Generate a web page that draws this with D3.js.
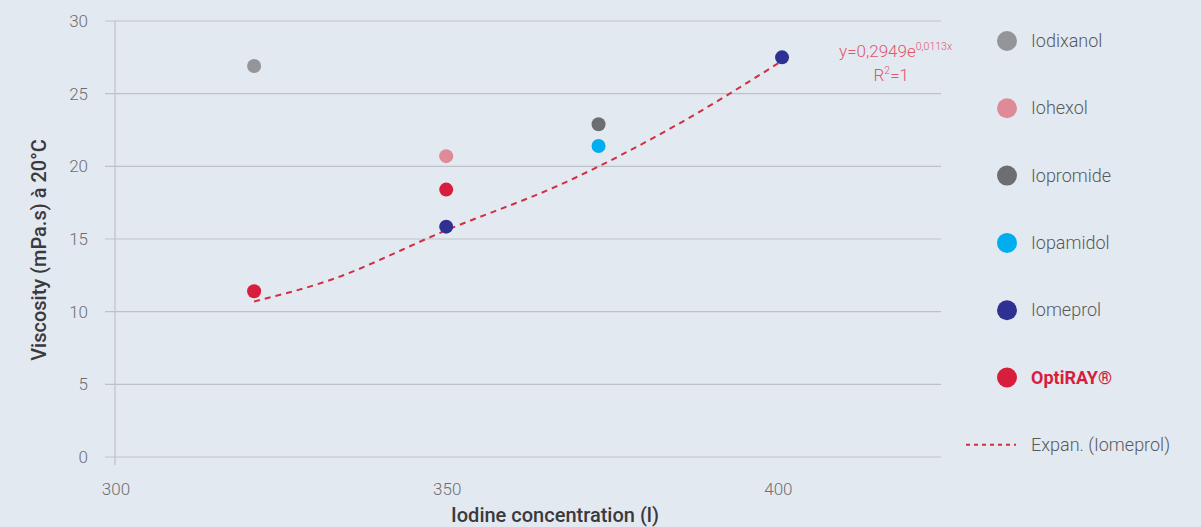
<!DOCTYPE html>
<html>
<head>
<meta charset="utf-8">
<script src="https://cdn.jsdelivr.net/npm/d3@7"></script>
<style>
  body { margin: 0; background: #e3e9f1; }
  svg { display: block; font-family: Roboto, "DejaVu Sans", sans-serif; }
</style>
</head>
<body>
<svg id="chart" width="1201" height="527"></svg>
<script>
"use strict";

// Products, in legend order
const products = ["Iodixanol", "Iohexol", "Iopromide", "Iopamidol", "Iomeprol", "OptiRAY®"];
const colors = ["#939598", "#de8a99", "#6d6e71", "#00aeef", "#2e3192", "#d71e3c"];

// Measured points: [iodine concentration, viscosity at 20°C]
const points = [
    { product: "Iodixanol", x: 321, y: 26.9 },
    { product: "Iohexol", x: 350, y: 20.7 },
    { product: "OptiRAY®", x: 350, y: 18.4 },
    { product: "Iomeprol", x: 350, y: 15.85 },
    { product: "Iopromide", x: 373, y: 22.9 },
    { product: "Iopamidol", x: 373, y: 21.4 },
    { product: "Iomeprol", x: 400.7, y: 27.5 },
    { product: "OptiRAY®", x: 321, y: 11.4 }
];

// Exponential trend for Iomeprol
const trendPoints = [[321, 10.7], [332, 12.1], [350, 15.6], [368, 18.9], [385, 22.9], [400.5, 27.2]];

const xTicks = [300, 350, 400];
const yTicks = [0, 5, 10, 15, 20, 25, 30];

const svg = d3.select("#chart");

const x = d3.scaleLinear([300, 425], [115, 943]);
const y = d3.scaleLinear([0, 30], [457, 21]);
const color = d3.scaleOrdinal(products, colors);

// grid lines
svg.append("g")
    .selectAll("line")
    .data(yTicks)
    .join("line")
    .attr("x1", x(300) - 10)
    .attr("x2", x(425) - 2)
    .attr("y1", d => y(d))
    .attr("y2", d => y(d))
    .attr("stroke", "#bfc1c8")
    .attr("stroke-width", 1.2);

// y axis line
svg.append("line")
    .attr("x1", x(300)).attr("x2", x(300))
    .attr("y1", y(30)).attr("y2", y(0) + 8)
    .attr("stroke", "#bfc1c8")
    .attr("stroke-width", 1.2);

// y tick labels
svg.append("g")
    .selectAll("text")
    .data(yTicks)
    .join("text")
    .attr("x", 88)
    .attr("y", d => y(d) + 6)
    .attr("text-anchor", "end")
    .attr("fill", "#6d6e71")
    .attr("font-size", 17)
    .attr("font-weight", 300)
    .text(d => d);

// x tick labels
svg.append("g")
    .selectAll("text")
    .data(xTicks)
    .join("text")
    .attr("x", d => x(d) + 1)
    .attr("y", 495)
    .attr("text-anchor", "middle")
    .attr("fill", "#6d6e71")
    .attr("font-size", 17)
    .attr("font-weight", 300)
    .text(d => d);

// axis titles
svg.append("text")
    .attr("transform", "translate(46,250) rotate(-90)")
    .attr("text-anchor", "middle")
    .attr("fill", "#3a3a3c")
    .attr("font-size", 20)
    .attr("font-weight", 500)
    .text("Viscosity (mPa.s) à 20°C");

svg.append("text")
    .attr("x", 555)
    .attr("y", 522)
    .attr("text-anchor", "middle")
    .attr("fill", "#3a3a3c")
    .attr("font-size", 20)
    .attr("font-weight", 500)
    .text("Iodine concentration (l)");

// trend line
const line = d3.line()
    .x(d => x(d[0]))
    .y(d => y(d[1]))
    .curve(d3.curveMonotoneX);

svg.append("path")
    .attr("d", line(trendPoints))
    .attr("fill", "none")
    .attr("stroke", "#d1303f")
    .attr("stroke-width", 2)
    .attr("stroke-dasharray", "6,5");

// points
svg.append("g")
    .selectAll("circle")
    .data(points)
    .join("circle")
    .attr("cx", d => x(d.x))
    .attr("cy", d => y(d.y))
    .attr("r", 7)
    .attr("fill", d => color(d.product));

// trend equation
const eq = svg.append("text")
    .attr("x", 952)
    .attr("y", 57)
    .attr("text-anchor", "end")
    .attr("fill", "#e0566b")
    .attr("font-size", 17)
    .attr("font-weight", 300);
eq.append("tspan").text("y=0,2949e");
eq.append("tspan").attr("dy", -7).attr("font-size", 10.5).text("0,0113x");

const r2 = svg.append("text")
    .attr("x", 909)
    .attr("y", 81)
    .attr("text-anchor", "end")
    .attr("fill", "#e0566b")
    .attr("font-size", 17)
    .attr("font-weight", 300);
r2.append("tspan").text("R");
r2.append("tspan").attr("dy", -7).attr("font-size", 10.5).text("2");
r2.append("tspan").attr("dy", 7).text("=1");

// legend
const legend = svg.append("g")
    .selectAll("g")
    .data(products)
    .join("g")
    .attr("transform", (d, i) => `translate(1007,${41 + i * 67.3})`);

legend.append("circle")
    .attr("r", 10)
    .attr("fill", d => color(d));

legend.append("text")
    .attr("x", 24)
    .attr("y", 6)
    .attr("font-size", 18)
    .attr("fill", d => d === "OptiRAY®" ? "#d71e3c" : "#58595b")
    .attr("font-weight", d => d === "OptiRAY®" ? 700 : 300)
    .text(d => d);

const trendLegend = svg.append("g")
    .attr("transform", `translate(966,${41 + 6 * 67.3})`);

trendLegend.append("line")
    .attr("x1", 0).attr("x2", 50)
    .attr("stroke", "#d1303f")
    .attr("stroke-width", 2)
    .attr("stroke-dasharray", "4,4");

trendLegend.append("text")
    .attr("x", 65)
    .attr("y", 6)
    .attr("font-size", 18)
    .attr("font-weight", 300)
    .attr("fill", "#58595b")
    .text("Expan. (Iomeprol)");
</script>
</body>
</html>
